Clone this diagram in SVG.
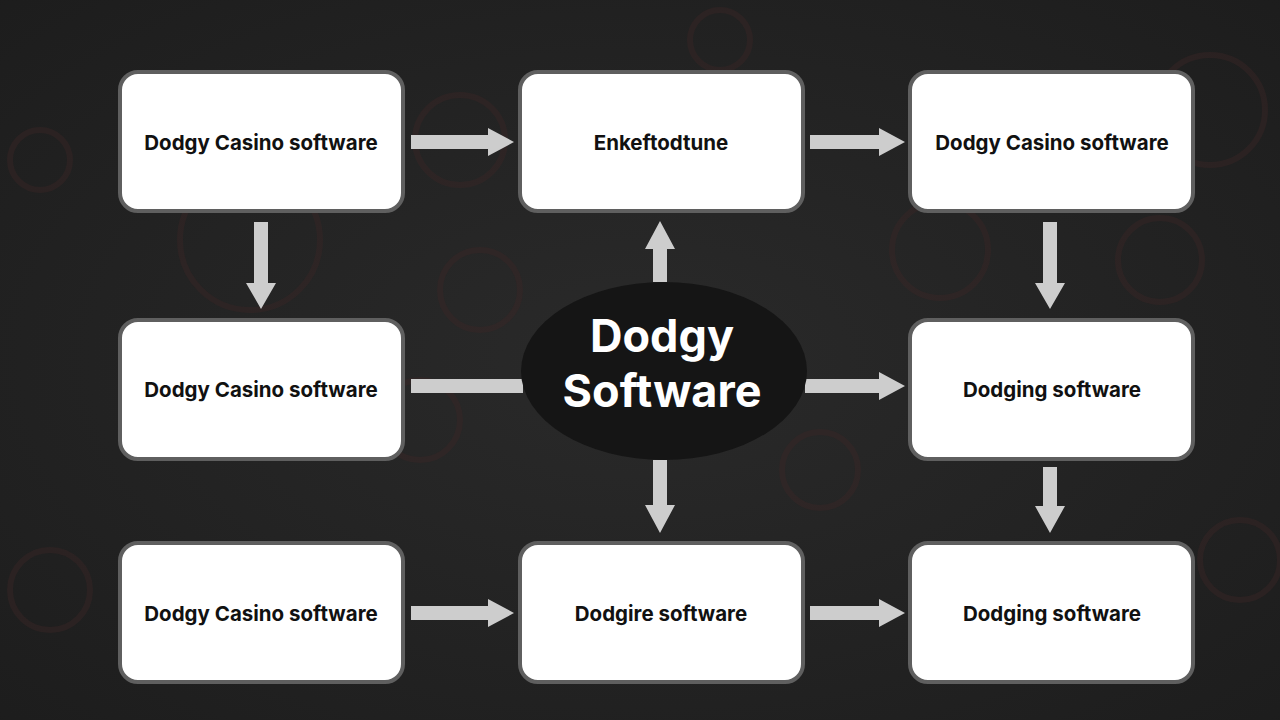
<svg xmlns="http://www.w3.org/2000/svg" width="1280" height="720" viewBox="0 0 1280 720">
<defs>
<radialGradient id="bg" cx="50%" cy="50%" r="75%">
<stop offset="0" stop-color="#2a2a2a"/>
<stop offset="1" stop-color="#1c1c1c"/>
</radialGradient>
<style>
.box{fill:#ffffff;stroke:#5f5f5f;stroke-width:4}
.lbl{font-family:Inter,"Open Sans","Liberation Sans",sans-serif;font-weight:700;font-size:20.5px;fill:#111;text-anchor:middle;dominant-baseline:central}
.arr{fill:#cdcdcd}
.chip{fill:none;stroke:#3a2626;stroke-width:6}
.title{font-family:Inter,"Open Sans","Liberation Sans",sans-serif;font-weight:700;font-size:45px;fill:#ffffff;text-anchor:middle}
</style>
</defs>
<rect width="1280" height="720" fill="url(#bg)"/>
<g id="background-chips" opacity="0.45">
<circle class="chip" cx="460" cy="140" r="45"/>
<circle class="chip" cx="480" cy="290" r="40"/>
<circle class="chip" cx="820" cy="470" r="38"/>
<circle class="chip" cx="940" cy="250" r="48"/>
<circle class="chip" cx="1160" cy="260" r="42"/>
<circle class="chip" cx="420" cy="420" r="40"/>
<circle class="chip" cx="250" cy="240" r="70"/>
<circle class="chip" cx="40" cy="160" r="30"/>
<circle class="chip" cx="50" cy="590" r="40"/>
<circle class="chip" cx="1240" cy="560" r="40"/>
<circle class="chip" cx="720" cy="40" r="30"/>
<circle class="chip" cx="1210" cy="110" r="55"/>
</g>
<g id="connectors">
<polygon class="arr" points="411,135 488,135 488,128 514,142 488,156 488,149 411,149"/>
<polygon class="arr" points="810,135 879,135 879,128 905,142 879,156 879,149 810,149"/>
<polygon class="arr" points="254,222 268,222 268,283 276,283 261,309 246,283 254,283"/>
<polygon class="arr" points="1043,222 1057,222 1057,283 1065,283 1050,309 1035,283 1043,283"/>
<polygon class="arr" points="1043,467 1057,467 1057,506 1065,506 1050,533 1035,506 1043,506"/>
<polygon class="arr" points="653,282 667,282 667,249 675,249 660,221 645,249 653,249"/>
<polygon class="arr" points="653,460 667,460 667,505 675,505 660,533 645,505 653,505"/>
<rect class="arr" x="411" y="379" width="112" height="14"/>
<polygon class="arr" points="805,379 879,379 879,372 905,386 879,400 879,393 805,393"/>
<polygon class="arr" points="411,606 488,606 488,599 514,613 488,627 488,620 411,620"/>
<polygon class="arr" points="810,606 879,606 879,599 905,613 879,627 879,620 810,620"/>
</g>
<g id="n1"><rect class="box" x="120" y="72" width="283" height="139" rx="18"/><text class="lbl" x="261" y="142">Dodgy Casino software</text></g>
<g id="n2"><rect class="box" x="520" y="72" width="283" height="139" rx="18"/><text class="lbl" x="661" y="142">Enkeftodtune</text></g>
<g id="n3"><rect class="box" x="910" y="72" width="283" height="139" rx="18"/><text class="lbl" x="1052" y="142">Dodgy Casino software</text></g>
<g id="n4"><rect class="box" x="120" y="320" width="283" height="139" rx="18"/><text class="lbl" x="261" y="389">Dodgy Casino software</text></g>
<g id="n6"><rect class="box" x="910" y="320" width="283" height="139" rx="18"/><text class="lbl" x="1052" y="389">Dodging software</text></g>
<g id="n7"><rect class="box" x="120" y="543" width="283" height="139" rx="18"/><text class="lbl" x="261" y="613">Dodgy Casino software</text></g>
<g id="n8"><rect class="box" x="520" y="543" width="283" height="139" rx="18"/><text class="lbl" x="661" y="613">Dodgire software</text></g>
<g id="n9"><rect class="box" x="910" y="543" width="283" height="139" rx="18"/><text class="lbl" x="1052" y="613">Dodging software</text></g>
<g id="center">
<ellipse cx="664" cy="371" rx="143" ry="89" fill="#151515"/>
<text class="title" x="662" y="352">Dodgy</text>
<text class="title" x="662" y="407">Software</text>
</g>
</svg>
